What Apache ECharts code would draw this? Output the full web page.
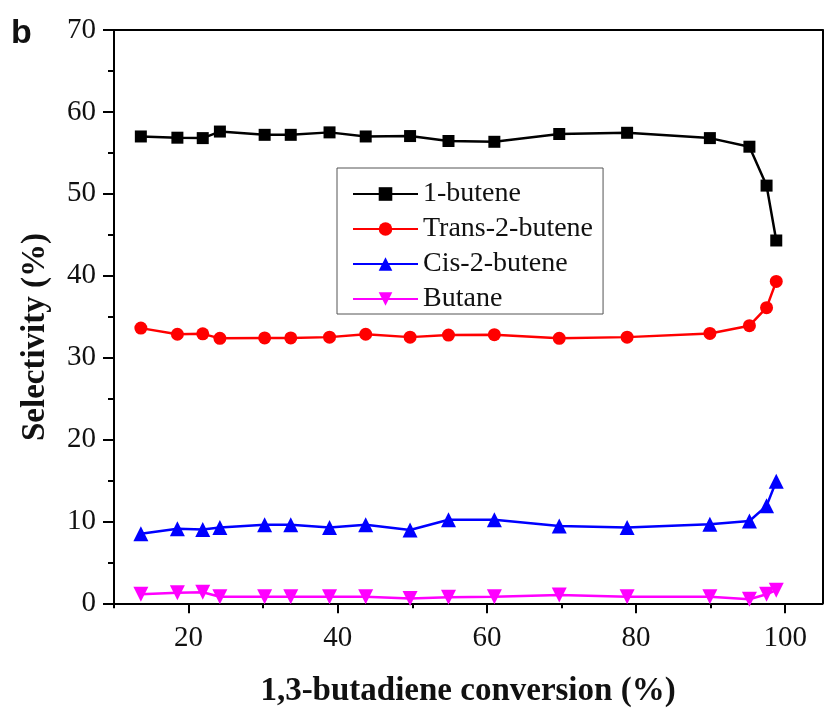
<!DOCTYPE html>
<html>
<head>
<meta charset="utf-8">
<script src="https://cdn.jsdelivr.net/npm/echarts@6/dist/echarts.min.js"></script>
<style>
  html, body { margin: 0; padding: 0; background: #fff; }
  #chart { width: 824px; height: 709px; }
</style>
</head>
<body>
<div id="chart"></div>
<script>
// 1,3-butadiene conversion (%) for each measurement
var conversion = [13.6, 18.5, 21.9, 24.2, 30.2, 33.7, 38.9, 43.75, 49.7, 54.85, 61.0, 69.7, 78.8, 89.9, 95.2, 97.5, 98.8];

// Selectivity (%) of each product
var butene1 = [57.0, 56.85, 56.8, 57.6, 57.2, 57.2, 57.5, 57.0, 57.05, 56.45, 56.35, 57.3, 57.45, 56.8, 55.75, 51.0, 44.3];
var trans2butene = [33.6, 32.85, 32.9, 32.35, 32.4, 32.4, 32.5, 32.85, 32.5, 32.75, 32.8, 32.35, 32.5, 32.95, 33.9, 36.1, 39.3];
var cis2butene = [8.5, 9.1, 9.0, 9.25, 9.6, 9.6, 9.25, 9.6, 8.95, 10.2, 10.2, 9.45, 9.25, 9.65, 10.05, 11.9, 14.9];
var butane = [1.1, 1.3, 1.35, 0.8, 0.8, 0.8, 0.8, 0.8, 0.6, 0.75, 0.8, 1.0, 0.8, 0.8, 0.5, 1.1, 1.6];

// Axis ticks
var xMajorTicks = [20, 40, 60, 80, 100];
var xMinorTicks = [10, 30, 50, 70, 90];

var seriesNames = ['1-butene', 'Trans-2-butene', 'Cis-2-butene', 'Butane'];

function pairs(ys) {
  return conversion.map(function (x, i) { return [x, ys[i]]; });
}

var serif = '"Liberation Serif", "Times New Roman", serif';
var chart = echarts.init(document.getElementById('chart'), null, { renderer: 'canvas' });

function lineSeries(name, ys, color, symbol, size) {
  return {
    name: name,
    type: 'line',
    xAxisIndex: 0,
    yAxisIndex: 0,
    data: pairs(ys),
    symbol: symbol,
    symbolSize: size,
    showAllSymbol: true,
    lineStyle: { color: color, width: 2.5 },
    itemStyle: { color: color, borderWidth: 0 },
    emphasis: { disabled: true },
    animation: false
  };
}

var option = {
  backgroundColor: '#ffffff',
  animation: false,
  grid: { left: 114, right: 1.5, top: 30, bottom: 105.7, containLabel: false },
  xAxis: [
    {
      type: 'value', position: 'bottom', min: 10, max: 105, offset: 0,
      axisLine: { show: true, onZero: false, lineStyle: { color: '#000', width: 2 } },
      axisTick: { show: true, inside: false, length: 10, customValues: xMajorTicks, lineStyle: { color: '#000', width: 2 } },
      axisLabel: { show: true, customValues: xMajorTicks, margin: 21, color: '#111', fontFamily: serif, fontSize: 29 },
      splitLine: { show: false }
    },
    {
      type: 'value', position: 'bottom', min: 10, max: 105, offset: 0,
      axisLine: { show: false },
      axisTick: { show: true, inside: false, length: 5, customValues: xMinorTicks, lineStyle: { color: '#000', width: 2 } },
      axisLabel: { show: false },
      splitLine: { show: false }
    },
    {
      type: 'value', position: 'top', min: 10, max: 105, offset: 0,
      axisLine: { show: true, onZero: false, lineStyle: { color: '#000', width: 2 } },
      axisTick: { show: false }, axisLabel: { show: false }, splitLine: { show: false }
    }
  ],
  yAxis: [
    {
      type: 'value', position: 'left', min: 0, max: 70, interval: 10,
      axisLine: { show: true, onZero: false, lineStyle: { color: '#000', width: 2 } },
      axisTick: { show: true, inside: false, length: 11, lineStyle: { color: '#000', width: 2 } },
      minorTick: { show: true, splitNumber: 2, length: 6, lineStyle: { color: '#000', width: 2 } },
      axisLabel: { show: true, margin: 18, color: '#111', fontFamily: serif, fontSize: 29 },
      splitLine: { show: false }
    },
    {
      type: 'value', position: 'right', min: 0, max: 70, interval: 10,
      axisLine: { show: true, onZero: false, lineStyle: { color: '#000', width: 2 } },
      axisTick: { show: false }, axisLabel: { show: false }, splitLine: { show: false }
    }
  ],
  legend: {
    orient: 'vertical',
    left: 337,
    top: 168,
    padding: [12, 10, 1, 15],
    itemGap: 7,
    itemWidth: 65,
    itemHeight: 17,
    borderColor: '#555',
    borderWidth: 1,
    backgroundColor: '#fff',
    data: seriesNames,
    textStyle: { color: '#111', fontFamily: serif, fontSize: 28 },
    selectedMode: false
  },
  graphic: [
    {
      type: 'text', left: 11, top: 17,
      style: { text: 'b', font: 'bold 34px "Liberation Sans", Arial, sans-serif', fill: '#111' }
    },
    {
      type: 'text', x: 35, y: 337, rotation: Math.PI / 2,
      style: {
        text: 'Selectivity (%)', font: 'bold 33px ' + serif, fill: '#111',
        align: 'center', verticalAlign: 'middle'
      }
    },
    {
      type: 'text', x: 468, y: 691,
      style: {
        text: '1,3-butadiene conversion (%)', font: 'bold 33px ' + serif, fill: '#111',
        align: 'center', verticalAlign: 'middle'
      }
    }
  ],
  series: [
    lineSeries(seriesNames[0], butene1, '#000000', 'rect', 12),
    lineSeries(seriesNames[1], trans2butene, '#ff0000', 'circle', 13),
    lineSeries(seriesNames[2], cis2butene, '#0000ff', 'triangle', 15),
    lineSeries(seriesNames[3], butane, '#ff00ff', 'path://M0,0 L12,0 L6,10.4 Z', 15)
  ]
};

chart.setOption(option);
</script>
</body>
</html>
